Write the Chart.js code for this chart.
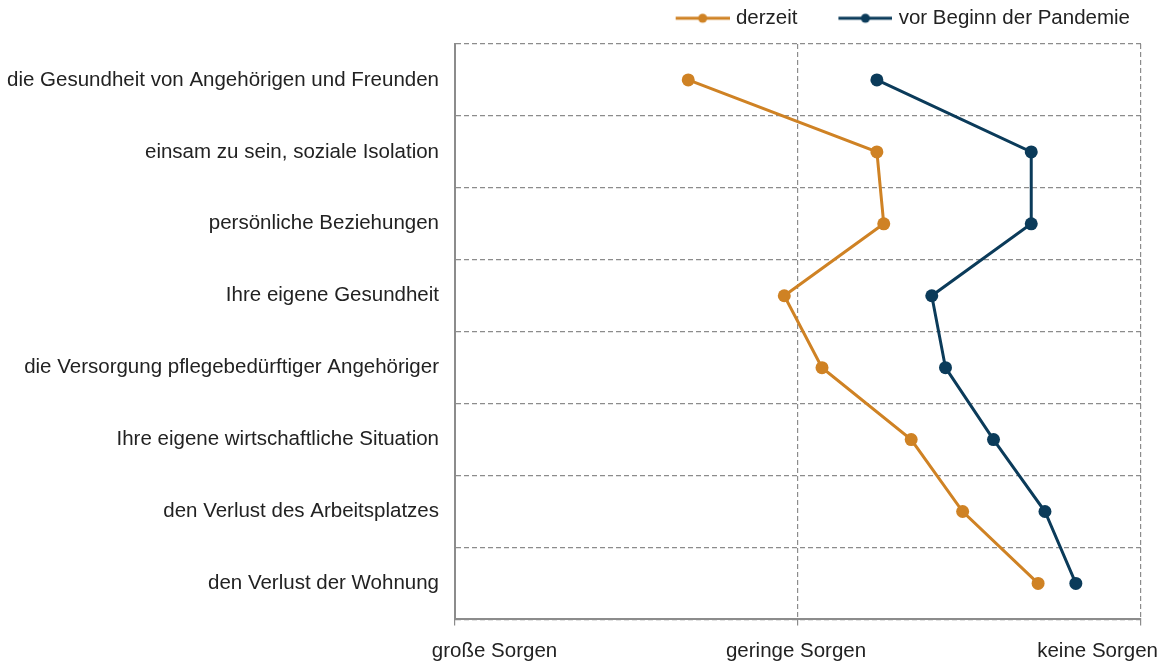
<!DOCTYPE html>
<html>
<head>
<meta charset="utf-8">
<script src="https://cdn.jsdelivr.net/npm/chart.js@4/dist/chart.umd.min.js"></script>
<style>
  html, body { margin: 0; padding: 0; background: #fff; }
  #wrap { width: 1168px; height: 664px; position: relative; }
</style>
</head>
<body>
<div id="wrap"><canvas id="sorgen"></canvas></div>
<script>
"use strict";
var categories = [
  'die Gesundheit von Angehörigen und Freunden',
  'einsam zu sein, soziale Isolation',
  'persönliche Beziehungen',
  'Ihre eigene Gesundheit',
  'die Versorgung pflegebedürftiger Angehöriger',
  'Ihre eigene wirtschaftliche Situation',
  'den Verlust des Arbeitsplatzes',
  'den Verlust der Wohnung'
];
// 1 = große Sorgen, 2 = geringe Sorgen, 3 = keine Sorgen
var derzeit = [1.68, 2.23, 2.25, 1.96, 2.07, 2.33, 2.48, 2.70];
var vorPandemie = [2.23, 2.68, 2.68, 2.39, 2.43, 2.57, 2.72, 2.81];
var xTickLabels = ['große Sorgen', 'geringe Sorgen', 'keine Sorgen'];
var seriesNames = ['derzeit', 'vor Beginn der Pandemie'];

var ORANGE = '#cf8224';
var NAVY = '#0b3b5a';
var GRID = '#8c8c8c';
var FONT = "'Liberation Sans', Arial, sans-serif";

// legend marker: line with a dot, drawn into a small canvas
function legendMarker(color) {
  var c = document.createElement('canvas');
  c.width = 88; c.height = 14;
  var g = c.getContext('2d');
  g.strokeStyle = color;
  g.lineWidth = 3;
  g.beginPath();
  g.moveTo(34, 7);
  g.lineTo(88, 7);
  g.stroke();
  g.fillStyle = color;
  g.beginPath();
  g.arc(61, 7, 4.5, 0, Math.PI * 2);
  g.fill();
  return c;
}

var ctx = document.getElementById('sorgen').getContext('2d');
var chart = new Chart(ctx, {
  type: 'line',
  data: {
    labels: categories,
    datasets: [{
      label: seriesNames[0],
      data: derzeit,
      borderColor: ORANGE,
      backgroundColor: ORANGE,
      borderWidth: 3,
      pointRadius: 6.5,
      pointBorderWidth: 0,
      xAxisID: 'x',
      yAxisID: 'y'
    }, {
      label: seriesNames[1],
      data: vorPandemie,
      borderColor: NAVY,
      backgroundColor: NAVY,
      borderWidth: 3,
      pointRadius: 6.5,
      pointBorderWidth: 0,
      xAxisID: 'x',
      yAxisID: 'y'
    }]
  },
  options: {
    indexAxis: 'y',
    responsive: true,
    maintainAspectRatio: false,
    animation: false,
    layout: { padding: { top: -3, right: 27, bottom: 0, left: 0 } },
    plugins: {
      tooltip: { enabled: false },
      legend: {
        position: 'top',
        align: 'end',
        labels: {
          usePointStyle: true,
          pointStyleWidth: 80,
          padding: 11,
          color: '#222',
          font: { family: FONT, size: 20.5 },
          generateLabels: function (chart) {
            return chart.data.datasets.map(function (ds, i) {
              return {
                text: ds.label,
                pointStyle: legendMarker(ds.borderColor),
                fillStyle: ds.borderColor,
                strokeStyle: ds.borderColor,
                fontColor: '#222',
                lineWidth: 0,
                hidden: false,
                datasetIndex: i
              };
            });
          }
        }
      }
    },
    scales: {
      y: {
        type: 'category',
        position: 'left',
        offset: true,
        afterFit: function (s) { s.width = 455; },
        grid: { offset: true, color: GRID, lineWidth: 1.2, drawTicks: false },
        border: { display: true, color: GRID, width: 2, dash: [5, 3] },
        ticks: { padding: 16, color: '#222', font: { family: FONT, size: 20.5 } }
      },
      x: {
        type: 'linear',
        position: 'bottom',
        min: 1,
        max: 3,
        afterFit: function (s) { s.height = 20; },
        ticks: { display: false, stepSize: 1 },
        grid: { color: GRID, lineWidth: 1.2, drawTicks: true, tickLength: 6, tickBorderDash: [] },
        border: { display: true, color: GRID, width: 2, dash: [5, 3] }
      },
      x2: {
        type: 'linear',
        position: 'bottom',
        min: 0.869,
        max: 3.144,
        afterBuildTicks: function (s) {
          s.ticks = xTickLabels.map(function (t, i) { return { value: i + 1 }; });
        },
        grid: { display: false, drawTicks: false },
        border: { display: false },
        ticks: {
          padding: 0,
          maxRotation: 0,
          color: '#222',
          font: { family: FONT, size: 20.5 },
          callback: function (v) { return xTickLabels[Math.round(v) - 1]; }
        }
      }
    }
  }
});

// keep the plot top at the same place as the original (legend block 47px high)
var legendFit = chart.legend.fit;
chart.legend.fit = function () {
  legendFit.call(this);
  this.height = 47;
};
chart.update();
</script>
</body>
</html>
